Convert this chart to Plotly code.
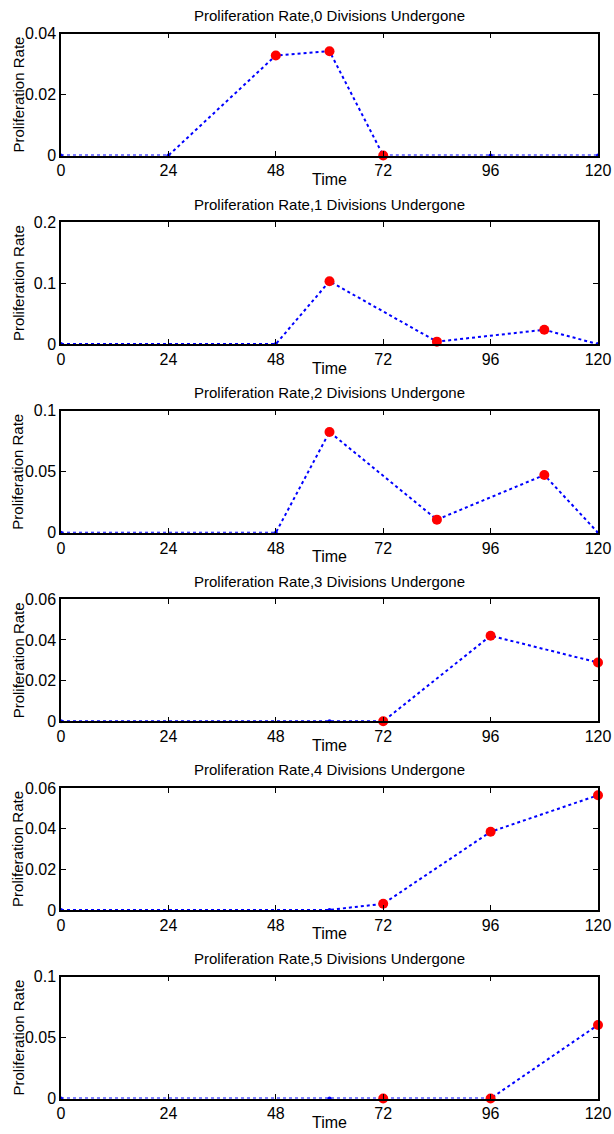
import plotly.graph_objects as go

# ---- data ----
titles = [
    "Proliferation Rate,0 Divisions Undergone",
    "Proliferation Rate,1 Divisions Undergone",
    "Proliferation Rate,2 Divisions Undergone",
    "Proliferation Rate,3 Divisions Undergone",
    "Proliferation Rate,4 Divisions Undergone",
    "Proliferation Rate,5 Divisions Undergone",
]
x_label = "Time"
y_label = "Proliferation Rate"

time0 = [0, 24, 48, 60, 72, 96, 120]
rate0 = [0, 0, 0.0328, 0.0342, 0, 0, 0]
red_t0 = [48, 60, 72]
red_v0 = [0.0328, 0.0342, 0]

time1 = [0, 48, 60, 84, 108, 120]
rate1 = [0, 0, 0.103, 0.004, 0.0235, 0]
red_t1 = [60, 84, 108]
red_v1 = [0.103, 0.004, 0.0235]

time2 = [0, 48, 60, 84, 108, 120]
rate2 = [0, 0, 0.0826, 0.0107, 0.0473, 0]
red_t2 = [60, 84, 108]
red_v2 = [0.0826, 0.0107, 0.0473]

time3 = [0, 60, 72, 96, 120]
rate3 = [0, 0, 0, 0.0421, 0.0289]
red_t3 = [72, 96, 120]
red_v3 = [0, 0.0421, 0.0289]

time4 = [0, 60, 72, 96, 120]
rate4 = [0, 0, 0.003, 0.0384, 0.0564]
red_t4 = [72, 96, 120]
red_v4 = [0.003, 0.0384, 0.0564]

time5 = [0, 60, 72, 96, 120]
rate5 = [0, 0, 0, 0, 0.0603]
red_t5 = [72, 96, 120]
red_v5 = [0, 0, 0.0603]

y_ranges = [[0, 0.04], [0, 0.2], [0, 0.1], [0, 0.06], [0, 0.06], [0, 0.1]]
y_ticks = [
    [0, 0.02, 0.04],
    [0, 0.1, 0.2],
    [0, 0.05, 0.1],
    [0, 0.02, 0.04, 0.06],
    [0, 0.02, 0.04, 0.06],
    [0, 0.05, 0.1],
]
y_ticktext = [
    ["0", "0.02", "0.04"],
    ["0", "0.1", "0.2"],
    ["0", "0.05", "0.1"],
    ["0", "0.02", "0.04", "0.06"],
    ["0", "0.02", "0.04", "0.06"],
    ["0", "0.05", "0.1"],
]
x_ticks = [0, 24, 48, 72, 96, 120]

times = [time0, time1, time2, time3, time4, time5]
rates = [rate0, rate1, rate2, rate3, rate4, rate5]
red_ts = [red_t0, red_t1, red_t2, red_t3, red_t4, red_t5]
red_vs = [red_v0, red_v1, red_v2, red_v3, red_v4, red_v5]

# ---- layout geometry (pixels) ----
W, H = 614, 1134
left_px, right_px = 61, 598
top0, panel_h, spacing = 33.5, 122, 188.6

FONT = "Liberation Sans, Arial, Helvetica, sans-serif"

fig = go.Figure()
layout = dict(
    width=W, height=H,
    margin=dict(l=0, r=0, t=0, b=0, autoexpand=False),
    paper_bgcolor="white", plot_bgcolor="white",
    showlegend=False,
    font=dict(family=FONT, color="black", size=14),
    annotations=[],
)

for i in range(6):
    xa = "x" if i == 0 else f"x{i+1}"
    ya = "y" if i == 0 else f"y{i+1}"
    top = top0 + i * spacing
    bot = top + panel_h
    ydom = [1 - bot / H, 1 - top / H]
    xdom = [left_px / W, right_px / W]

    fig.add_trace(go.Scatter(
        x=times[i], y=rates[i], mode="lines+markers",
        line=dict(color="#0000ff", width=2, dash="dot"),
        marker=dict(color="#0000ff", size=4),
        xaxis=xa, yaxis=ya, cliponaxis=False,
    ))
    fig.add_trace(go.Scatter(
        x=red_ts[i], y=red_vs[i], mode="markers",
        marker=dict(color="#ff0000", size=10, line=dict(width=0)),
        xaxis=xa, yaxis=ya, cliponaxis=False,
    ))

    xkey = "xaxis" if i == 0 else f"xaxis{i+1}"
    ykey = "yaxis" if i == 0 else f"yaxis{i+1}"
    layout[xkey] = dict(
        domain=xdom, anchor=ya, range=[0, 120],
        tickvals=x_ticks, ticktext=[str(v) for v in x_ticks],
        ticks="inside", ticklen=5, tickcolor="black", tickwidth=1,
        showline=True, linecolor="black", linewidth=1.5, mirror="ticks",
        showgrid=False, zeroline=False, automargin=False,
        tickfont=dict(size=16, family=FONT),
        fixedrange=True,
    )
    layout[ykey] = dict(
        domain=ydom, anchor=xa, range=y_ranges[i],
        tickvals=y_ticks[i], ticktext=y_ticktext[i],
        ticks="inside", ticklen=5, tickcolor="black", tickwidth=1,
        showline=True, linecolor="black", linewidth=1.5, mirror="ticks",
        showgrid=False, zeroline=False, automargin=False,
        tickfont=dict(size=16, family=FONT),
        fixedrange=True,
    )
    # panel title
    layout["annotations"].append(dict(
        text=titles[i], xref="paper", yref="paper",
        x=(left_px + right_px) / 2 / W, y=1 - (top - 18) / H,
        xanchor="center", yanchor="middle", showarrow=False,
        font=dict(size=15, family=FONT),
    ))
    # x-axis label
    layout["annotations"].append(dict(
        text=x_label, xref="paper", yref="paper",
        x=(left_px + right_px) / 2 / W, y=1 - (bot + 24) / H,
        xanchor="center", yanchor="middle", showarrow=False,
        font=dict(size=16, family=FONT),
    ))
    # y-axis label
    layout["annotations"].append(dict(
        text=y_label, xref="paper", yref="paper",
        x=18 / W, y=1 - (top + panel_h / 2) / H,
        xanchor="center", yanchor="middle", showarrow=False,
        textangle=-90,
        font=dict(size=15, family=FONT),
    ))

fig.update_layout(**layout)
fig.write_html("out.html")
